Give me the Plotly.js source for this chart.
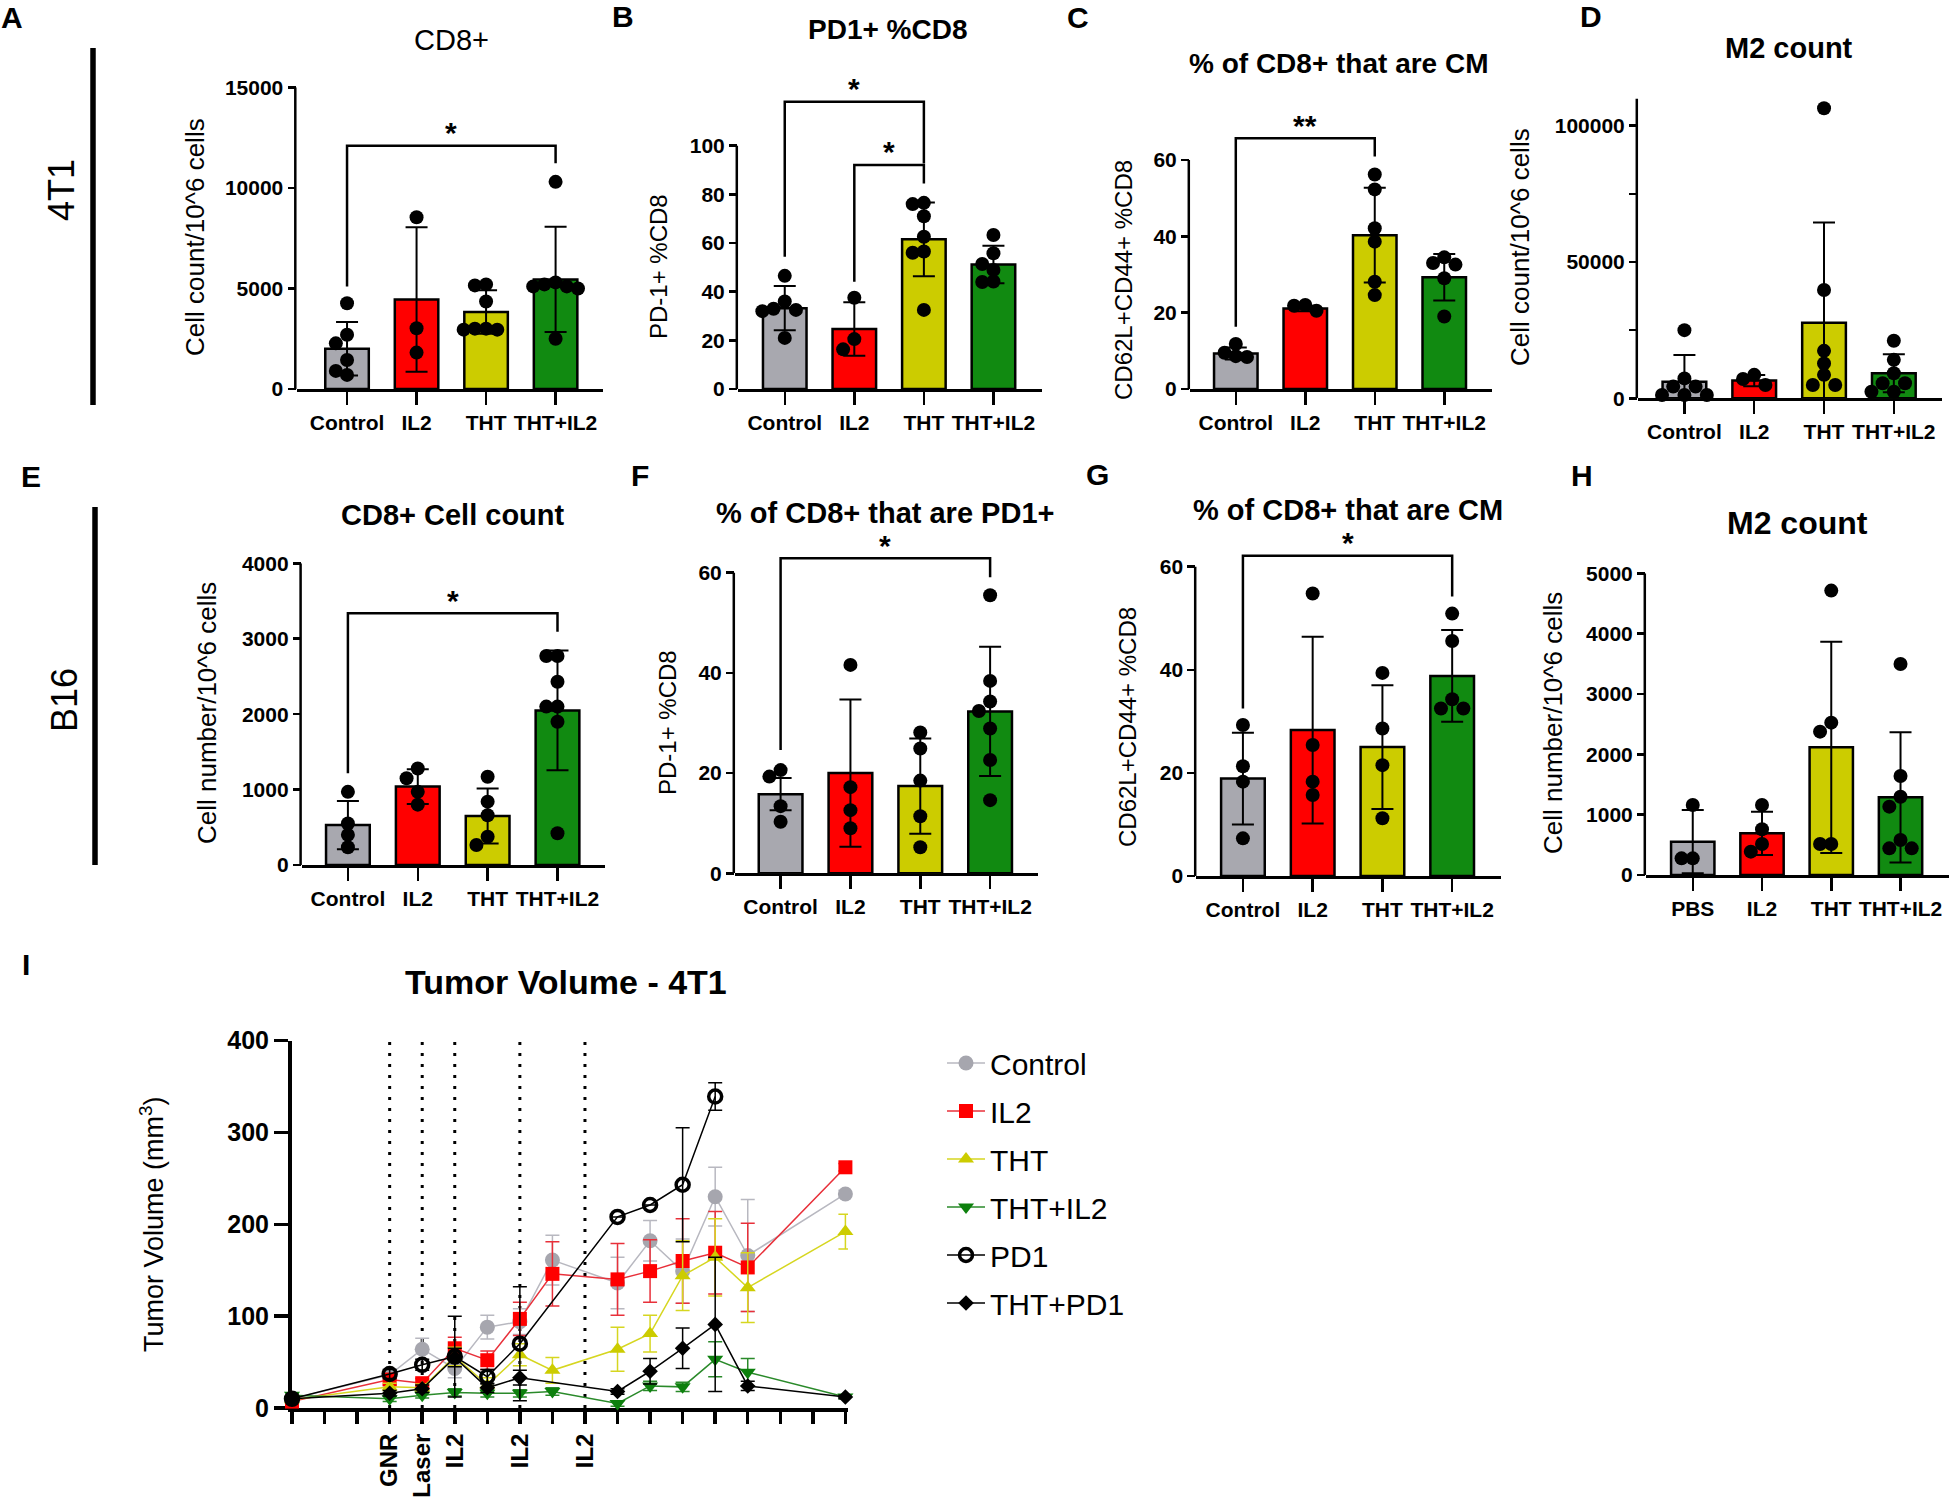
<!DOCTYPE html>
<html><head><meta charset="utf-8">
<script src="https://cdn.plot.ly/plotly-3.0.1.min.js"></script>
<style>html,body{margin:0;padding:0;background:#fff}#chart{width:1949px;height:1505px}</style>
</head><body><div id="chart"></div>
<script>
// ================= DATA =================
const groups4 = ['Control', 'IL2', 'THT', 'THT+IL2'];
const groupsH = ['PBS', 'IL2', 'THT', 'THT+IL2'];

// A  CD8+ (4T1)
const meanA = [2000, 4450, 3830, 5450];
const sdA = [1330, 3590, 1080, 2620];
const ptsA = [[4260, 2700, 2270, 1440, 900, 700], [8540, 3020, 1810], [5200, 5150, 4350, 3000, 3000, 2950, 2950], [10300, 5300, 5200, 5100, 5000, 5100, 2500]];
const sigA = [[0, 3, 5100, 12100, 11220, '*']];
const ticksA = [0, 5000, 10000, 15000];

// B  PD1+ %CD8 (4T1)
const meanB = [33.2, 24.7, 61.5, 51.2];
const sdB = [9.1, 11, 15.2, 7.7];
const ptsB = [[46.5, 36, 33, 32.5, 32, 21], [37.5, 20.5, 16.3], [76.5, 76, 71, 62.6, 56.5, 56, 32.5], [63.3, 55.8, 51.4, 48.9, 44.2, 44]];
const sigB = [[0, 2, 54.4, 118.1, 92.7, '*'], [1, 2, 44.1, 92.1, 84.5, '*']];
const ticksB = [0, 20, 40, 60, 80, 100];

// C  % of CD8+ that are CM (4T1)
const meanC = [9.3, 21.1, 40.3, 29.3];
const sdC = [1.6, 0.7, 12.4, 6.1];
const ptsC = [[11.8, 9.5, 8.6, 8.4], [20.5, 21.8, 22], [56.2, 52.3, 42.1, 38.6, 28.1, 24.6], [34.5, 33, 32.6, 29, 19]];
const sigC = [[0, 2, 16.3, 65.7, 60.9, '**']];
const ticksC = [0, 20, 40, 60];

// D  M2 count (4T1)
const meanD = [6100, 6500, 27750, 9200];
const sdD = [9790, 2060, 36700, 6970];
const ptsD = [[25000, 7300, 4300, 4300, 1200, 1200, 1200], [8600, 7100, 4900], [106400, 39700, 17400, 12800, 8600, 4900, 4900], [21100, 14100, 9200, 5500, 5500, 2400, 2400]];
const sigD = [];
const ticksD = [0, 50000, 100000];
const minorTickD = 25000;

// E  CD8+ Cell count (B16)
const meanE = [530, 1040, 650, 2050];
const sdE = [320, 230, 365, 795];
const ptsE = [[970, 550, 400, 235], [1280, 1150, 970, 800], [1170, 840, 660, 375, 265], [2770, 2770, 2430, 2100, 2100, 1900, 420]];
const sigE = [[0, 3, 1215, 3337, 3094, '*']];
const ticksE = [0, 1000, 2000, 3000, 4000];

// F  % of CD8+ that are PD1+ (B16)
const meanF = [15.8, 20, 17.4, 32.3];
const sdF = [3.2, 14.7, 9.5, 12.9];
const ptsF = [[20.6, 19.3, 13.4, 10.3], [41.6, 17.2, 12.6, 9], [28.1, 24.9, 18.5, 11.4, 5.2], [55.5, 38.4, 34.3, 32.4, 28.9, 22.6, 14.6]];
const sigF = [[0, 3, 24.6, 62.9, 59.1, '*']];
const ticksF = [0, 20, 40, 60];

// G  % of CD8+ that are CM (B16)
const meanG = [18.9, 28.3, 25, 38.8];
const sdG = [8.9, 18.1, 12, 8.9];
const ptsG = [[29.3, 21.3, 18.3, 7.3], [54.8, 25.4, 18.3, 15.7], [39.4, 28.6, 21.5, 11.2], [50.9, 45.6, 34.3, 32.5, 32.5]];
const sigG = [[0, 3, 32.5, 62.1, 54.2, '*']];
const ticksG = [0, 20, 40, 60];

// H  M2 count (B16)
const meanH = [552, 691, 2116, 1287];
const sdH = [525, 359, 1751, 1078];
const ptsH = [[1160, 276, 276], [1160, 757, 514, 387], [4713, 2525, 2376, 514, 514], [3497, 1641, 1298, 1133, 580, 442, 442]];
const sigH = [];
const ticksH = [0, 1000, 2000, 3000, 4000, 5000];

// I  Tumor volume - 4T1
const daysMain = [0, 3, 4, 5, 6, 7, 8, 10, 11, 12, 13, 14, 17];
const daysPD1 = [0, 3, 4, 5, 6, 7, 10, 11, 12, 13];
const daysTHTPD1 = [0, 3, 4, 5, 6, 7, 10, 11, 12, 13, 14, 17];
const volControl = [10, 36, 64, 43, 88, 94, 161, 136, 182, 149, 230, 166, 233];
const errControl = [3, 5, 12, 10, 13, 14, 27, 28, 22, 35, 32, 61, 4];
const volIL2 = [7, 31, 27, 65, 52, 97, 146, 140, 149, 160, 169, 153, 262];
const errIL2 = [2, 6, 5, 12, 10, 18, 35, 39, 34, 46, 45, 48, 4];
const volTHT = [9, 23, 22, 56, 25, 58, 41, 64, 81, 144, 164, 131, 192];
const errTHT = [2, 4, 4, 10, 8, 12, 14, 24, 20, 38, 42, 38, 19];
const volTHTIL2 = [14, 10, 14, 17, 16, 16, 18, 5, 24, 23, 53, 39, 12];
const errTHTIL2 = [2, 3, 3, 4, 4, 4, 4, 3, 5, 5, 19, 15, 2];
const volPD1 = [10, 37, 47, 56, 34, 70, 208, 221, 243, 339];
const errPD1 = [2, 5, 6, 44, 8, 62, 0, 0, 62, 15];
const volTHTPD1 = [10, 16, 21, 55, 22, 33, 18, 40, 65, 91, 24, 12];
const errTHTPD1 = [2, 3, 4, 10, 5, 8, 3, 14, 22, 73, 5, 2];
const treatDays = [3, 4, 5, 7, 9];
const treatLabels = ['GNR', 'Laser', 'IL2', 'IL2', 'IL2'];
const dayMax = 17;
const ticksI = [0, 100, 200, 300, 400];

// ================= STYLE / LAYOUT =================
const W = 1949, H = 1505;
const FONT = 'Liberation Sans, Arial, Helvetica, sans-serif';
const barColors = ['#a8a8af', '#ff0000', '#cccc00', '#118a11'];
const PX = p => p / W, PY = p => 1 - p / H;

// pixel geometry of each panel: l = y-axis x, r = x-axis end, b = y of value 0, t = y of axis top value
const panels = [
  {l: 296.5, r: 603, t: 87.3, b: 389, xr: [-0.727, 3.682], axTop: 15000, g: groups4, mean: meanA, sd: sdA, pts: ptsA, sig: sigA, tv: ticksA},
  {l: 738, r: 1042, t: 145.7, b: 389, xr: [-0.672, 3.698], axTop: 100, g: groups4, mean: meanB, sd: sdB, pts: ptsB, sig: sigB, tv: ticksB},
  {l: 1190, r: 1491.5, t: 160, b: 389, xr: [-0.659, 3.68], axTop: 60, g: groups4, mean: meanC, sd: sdC, pts: ptsC, sig: sigC, tv: ticksC},
  {l: 1638, r: 1942, t: 98.4, b: 398.3, xr: [-0.665, 3.69], axTop: 110000, g: groups4, mean: meanD, sd: sdD, pts: ptsD, sig: sigD, tv: ticksD, minor: minorTickD},
  {l: 301.8, r: 605, t: 563.3, b: 865, xr: [-0.66, 3.68], axTop: 4000, g: groups4, mean: meanE, sd: sdE, pts: ptsE, sig: sigE, tv: ticksE},
  {l: 735, r: 1037.6, t: 572.7, b: 873.3, xr: [-0.653, 3.68], axTop: 60, g: groups4, mean: meanF, sd: sdF, pts: ptsF, sig: sigF, tv: ticksF},
  {l: 1196.4, r: 1501, t: 566.7, b: 876, xr: [-0.667, 3.70], axTop: 60, g: groups4, mean: meanG, sd: sdG, pts: ptsG, sig: sigG, tv: ticksG},
  {l: 1646, r: 1949, t: 573.3, b: 875, xr: [-0.675, 3.70], axTop: 5000, g: groupsH, mean: meanH, sd: sdH, pts: ptsH, sig: sigH, tv: ticksH}
];

function swarmX(vals, center, pxX, pxY, diam) {
  const order = vals.map((_, i) => i).sort((a, b) => vals[b] - vals[a]);
  const placed = [], xs = new Array(vals.length);
  const step = diam * 0.8;
  for (const i of order) {
    const py = vals[i] * pxY;
    for (let k = 0; k < 40; k++) {
      const off = k === 0 ? 0 : (k % 2 ? -1 : 1) * Math.ceil(k / 2) * step;
      if (placed.every(p => Math.hypot(p.x - off, p.y - py) >= diam * 0.8)) {
        placed.push({x: off, y: py});
        xs[i] = center + off / pxX;
        break;
      }
    }
  }
  return xs;
}

const traces = [];
const layout = {
  width: W, height: H, margin: {l: 0, r: 0, t: 0, b: 0},
  paper_bgcolor: '#fff', plot_bgcolor: 'rgba(0,0,0,0)',
  showlegend: true, barmode: 'overlay', hovermode: false,
  font: {family: FONT, color: '#000'},
  annotations: [], shapes: []
};
const tickFontBold = s => ({family: FONT, size: s, color: '#000', weight: 'bold'});

panels.forEach((p, idx) => {
  const n = idx + 1;
  const sfx = n === 1 ? '' : String(n);
  const xa = 'x' + sfx, ya = 'y' + sfx;
  const cats = p.g.map((_, i) => i);
  const k = (p.b - p.t) / p.axTop;                       // px per unit
  const sigTop = p.sig.length ? Math.max(...p.sig.map(s => s[3])) : 0;
  const topVal = Math.max(p.axTop, sigTop + 4 / k);       // extend range to hold brackets
  const topPx = p.b - topVal * k;
  layout['xaxis' + sfx] = {
    domain: [PX(p.l), PX(p.r)], range: p.xr, anchor: ya, tickmode: 'array',
    tickvals: cats, ticktext: p.g, ticks: 'outside', ticklen: 13, tickwidth: 2.5, tickcolor: '#000',
    showline: true, linecolor: '#000', linewidth: 2.5, showgrid: false, zeroline: false,
    tickfont: tickFontBold(21), fixedrange: true, layer: 'below traces'
  };
  const yax = {
    domain: [PY(p.b), PY(topPx)], range: [0, topVal], anchor: xa, tickmode: 'array',
    tickvals: p.tv, ticktext: p.tv.map(String), ticks: 'outside', ticklen: 8, tickwidth: 2.5, tickcolor: '#000',
    showline: false, showgrid: false, zeroline: false,
    tickfont: tickFontBold(21), fixedrange: true, layer: 'below traces'
  };
  if (p.minor) yax.minor = {tick0: 0, dtick: p.minor, ticks: 'outside', ticklen: 8, tickwidth: 2.5, tickcolor: '#000', showgrid: false};
  layout['yaxis' + sfx] = yax;
  // y axis line only up to the top of the scale (Prism style)
  layout.shapes.push({
    type: 'line', xref: 'paper', yref: ya, x0: PX(p.l - 1.2), x1: PX(p.l - 1.2), y0: 0, y1: p.axTop,
    line: {color: '#000', width: 2.5}
  });
  traces.push({
    type: 'bar', x: cats, y: p.mean, xaxis: xa, yaxis: ya, width: 0.626, showlegend: false,
    marker: {color: barColors, line: {color: '#000', width: 2.5}},
    error_y: {type: 'data', array: p.sd, visible: true, color: '#000', thickness: 2, width: 11}
  });
  const pxX = (p.r - p.l) / (p.xr[1] - p.xr[0]);
  let px = [], py = [];
  p.pts.forEach((vals, gi) => {
    px = px.concat(swarmX(vals, gi, pxX, k, 14));
    py = py.concat(vals);
  });
  traces.push({
    type: 'scatter', mode: 'markers', x: px, y: py, xaxis: xa, yaxis: ya, showlegend: false,
    cliponaxis: false, marker: {color: '#000', size: 14}
  });
  p.sig.forEach(s => {
    traces.push({
      type: 'scatter', mode: 'lines', x: [s[0], s[0], s[1], s[1]], y: [s[2], s[3], s[3], s[4]],
      xaxis: xa, yaxis: ya, showlegend: false, cliponaxis: false, line: {color: '#000', width: 2.5}
    });
    layout.annotations.push({
      xref: xa, yref: ya, x: (s[0] + s[1]) / 2, y: s[3], text: s[5], showarrow: false,
      xanchor: 'center', yanchor: 'middle', yshift: 13,
      font: {family: FONT, size: 30, color: '#000', weight: 'bold'}
    });
  });
});

// ---- Panel I ----
const gI = {l: 292, r: 848, t: 1040.5, b: 1408};
layout.xaxis9 = {
  domain: [PX(gI.l), PX(gI.r)], range: [0, dayMax + 0.08], anchor: 'y9', tickmode: 'array',
  tickvals: treatDays, ticktext: treatLabels,
  tickangle: -90, ticks: 'outside', ticklen: 12, tickwidth: 3.5, tickcolor: '#000',
  minor: {tick0: 0, dtick: 1, ticks: 'outside', ticklen: 12, tickwidth: 3.5, tickcolor: '#000', showgrid: false},
  showline: true, linecolor: '#000', linewidth: 4, showgrid: false, zeroline: false,
  tickfont: tickFontBold(24), fixedrange: true, layer: 'below traces'
};
layout.yaxis9 = {
  domain: [PY(gI.b), PY(gI.t)], range: [0, 400], anchor: 'x9', tickmode: 'array', tickvals: ticksI,
  ticktext: ticksI.map(String), ticks: 'outside', ticklen: 14, tickwidth: 3.5, tickcolor: '#000',
  showline: true, linecolor: '#000', linewidth: 4, showgrid: false, zeroline: false,
  tickfont: tickFontBold(25), fixedrange: true, layer: 'below traces'
};
treatDays.forEach(d => layout.shapes.push({
  type: 'line', xref: 'x9', yref: 'y9', x0: d, x1: d, y0: 0, y1: 400,
  line: {color: '#000', width: 3, dash: '3px,8px'}, layer: 'below'
}));

const series = [
  ['Control', daysMain, volControl, errControl, '#a6a6ae', '#b8b8c0', 'circle', 15],
  ['IL2', daysMain, volIL2, errIL2, '#ff0000', '#e8303a', 'square', 14],
  ['THT', daysMain, volTHT, errTHT, '#cccc00', '#d6d620', 'triangle-up', 14],
  ['THT+IL2', daysMain, volTHTIL2, errTHTIL2, '#0d800d', '#2a8a2a', 'triangle-down', 14],
  ['PD1', daysPD1, volPD1, errPD1, '#000000', '#000000', 'circle-open', 13],
  ['THT+PD1', daysTHTPD1, volTHTPD1, errTHTPD1, '#000000', '#000000', 'diamond', 12]
];
series.forEach(s => {
  traces.push({
    type: 'scatter', mode: 'lines+markers', name: s[0], legendgroup: s[0],
    x: s[1], y: s[2], xaxis: 'x9', yaxis: 'y9', cliponaxis: false,
    line: {color: s[5], width: 1.5},
    marker: {color: s[4], symbol: s[6], size: s[7], line: {color: s[4], width: s[6] === 'circle-open' ? 3.5 : 0}},
    error_y: {type: 'data', array: s[3], visible: true, color: s[5], thickness: 1.5, width: 7}
  });
});
layout.legend = {
  x: PX(942), xanchor: 'left', y: PY(1037), yanchor: 'top', traceorder: 'grouped', tracegroupgap: 6,
  itemwidth: 38, bgcolor: 'rgba(0,0,0,0)', font: {family: FONT, size: 30, color: '#000'}
};

// ---- Text annotations (titles, axis titles, panel letters) ----
const ann = (text, x, y, size, bold, angle) => layout.annotations.push({
  xref: 'paper', yref: 'paper', x: PX(x), y: PY(y), text: text, showarrow: false,
  xanchor: 'center', yanchor: 'middle', textangle: angle || 0,
  font: {family: FONT, size: size, color: '#000', weight: bold ? 'bold' : 'normal'}
});
ann('CD8+', 451, 40, 29, false);
ann('PD1+ %CD8', 888, 29, 28, true);
ann('% of CD8+ that are CM', 1339, 64, 28, true);
ann('M2 count', 1789, 48, 29, true);
ann('CD8+ Cell count', 453, 515, 29, true);
ann('% of CD8+ that are PD1+', 885, 513, 29, true);
ann('% of CD8+ that are CM', 1348, 510, 29, true);
ann('M2 count', 1797, 523, 32, true);
ann('Tumor Volume - 4T1', 566, 982, 34, true);

ann('Cell count/10^6 cells', 195, 237, 26, false, -90);
ann('PD-1+ %CD8', 658, 267, 24, false, -90);
ann('CD62L+CD44+ %CD8', 1123, 280, 24, false, -90);
ann('Cell count/10^6 cells', 1520, 247, 26, false, -90);
ann('Cell number/10^6 cells', 207, 713, 26, false, -90);
ann('PD-1+ %CD8', 667, 723, 24, false, -90);
ann('CD62L+CD44+ %CD8', 1127, 727, 24, false, -90);
ann('Cell number/10^6 cells', 1553, 723, 26, false, -90);
ann('Tumor Volume (mm<sup>3</sup>)', 152, 1224, 27, false, -90);

ann('4T1', 62, 190, 36, false, -90);
ann('B16', 65, 700, 36, false, -90);

[['A', 12, 17], ['B', 623, 16], ['C', 1078, 17], ['D', 1591, 16], ['E', 31, 477], ['F', 640, 476],
 ['G', 1097, 475], ['H', 1582, 476], ['I', 26, 964]].forEach(l => ann(l[0], l[1], l[2], 30, true));

layout.shapes.push({type: 'line', xref: 'paper', yref: 'paper', x0: PX(93), x1: PX(93), y0: PY(48), y1: PY(405), line: {color: '#000', width: 5.5}});
layout.shapes.push({type: 'line', xref: 'paper', yref: 'paper', x0: PX(95), x1: PX(95), y0: PY(507), y1: PY(865), line: {color: '#000', width: 5.5}});

Plotly.newPlot('chart', traces, layout, {staticPlot: true, displayModeBar: false});
</script>
</body></html>
